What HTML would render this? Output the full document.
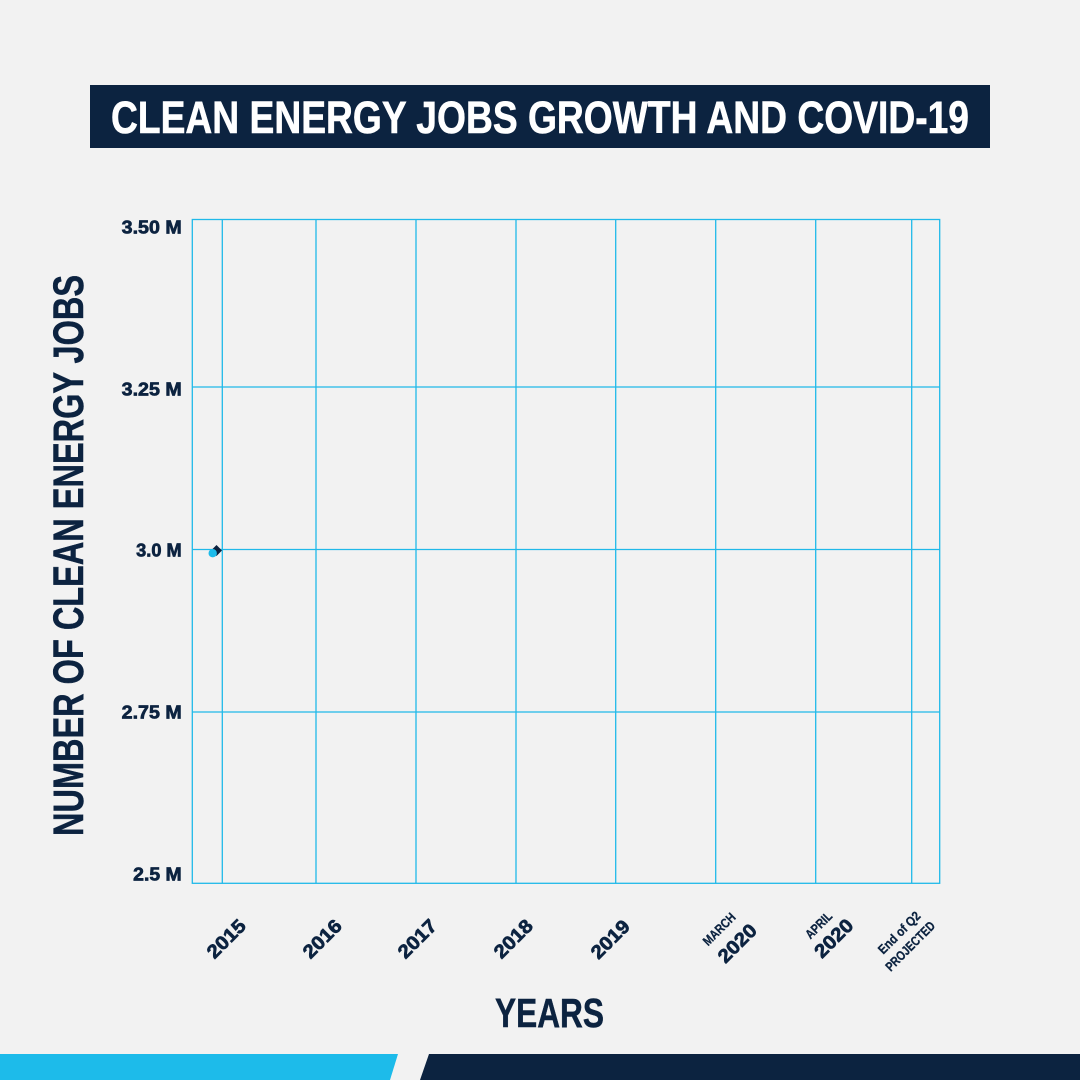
<!DOCTYPE html>
<html>
<head>
<meta charset="utf-8">
<style>
  html, body { margin:0; padding:0; background:#f2f2f2; }
  body { width:1080px; height:1080px; overflow:hidden; }
  svg { display:block; }
  text { font-family: "Liberation Sans", Arial, sans-serif; font-weight:bold; fill:#0c2340; }
  .heavy { stroke:#0c2340; stroke-width:0.7; }
</style>
</head>
<body>
<svg width="1080" height="1080" viewBox="0 0 1080 1080" xmlns="http://www.w3.org/2000/svg">
  <rect x="0" y="0" width="1080" height="1080" fill="#f2f2f2"/>

  <!-- Title -->
  <rect x="90" y="85" width="900" height="63" fill="#0c2340"/>
  <text x="111" y="133" font-size="45" style="fill:#ffffff;stroke:#ffffff;stroke-width:0.6" textLength="858" lengthAdjust="spacingAndGlyphs">CLEAN ENERGY JOBS GROWTH AND COVID-19</text>

  <!-- Grid -->
  <g stroke="#20b9e9" stroke-width="1.3" fill="none">
    <rect x="192.3" y="219.5" width="747.4" height="663.8"/>
    <line x1="192.3" y1="387" x2="939.7" y2="387"/>
    <line x1="192.3" y1="549.5" x2="939.7" y2="549.5"/>
    <line x1="192.3" y1="712" x2="939.7" y2="712"/>
    <line x1="222.3" y1="219.5" x2="222.3" y2="883.3"/>
    <line x1="316" y1="219.5" x2="316" y2="883.3"/>
    <line x1="416" y1="219.5" x2="416" y2="883.3"/>
    <line x1="516" y1="219.5" x2="516" y2="883.3"/>
    <line x1="615.7" y1="219.5" x2="615.7" y2="883.3"/>
    <line x1="715.7" y1="219.5" x2="715.7" y2="883.3"/>
    <line x1="815.7" y1="219.5" x2="815.7" y2="883.3"/>
    <line x1="911.7" y1="219.5" x2="911.7" y2="883.3"/>
  </g>

  <!-- Y tick labels -->
  <g font-size="18" text-anchor="end" class="heavy">
    <text x="181.7" y="233.5" textLength="60" lengthAdjust="spacingAndGlyphs">3.50 M</text>
    <text x="181.7" y="395.7" textLength="60" lengthAdjust="spacingAndGlyphs">3.25 M</text>
    <text x="181.7" y="556.5" textLength="45.5" lengthAdjust="spacingAndGlyphs">3.0 M</text>
    <text x="181.7" y="718.7" textLength="60" lengthAdjust="spacingAndGlyphs">2.75 M</text>
    <text x="181.7" y="880.7" textLength="48.5" lengthAdjust="spacingAndGlyphs">2.5 M</text>
  </g>

  <!-- Y axis title -->
  <text transform="translate(83,836) rotate(-90)" x="0" y="0" font-size="42.5" class="heavy" style="stroke-width:0.5" textLength="561" lengthAdjust="spacingAndGlyphs">NUMBER OF CLEAN ENERGY JOBS</text>

  <!-- X tick labels -->
  <g font-size="19" text-anchor="middle" class="heavy">
    <text transform="translate(226,938.5) rotate(-45)" y="6.8" textLength="46" lengthAdjust="spacingAndGlyphs">2015</text>
    <text transform="translate(322,938.5) rotate(-45)" y="6.8" textLength="46" lengthAdjust="spacingAndGlyphs">2016</text>
    <text transform="translate(417,938.5) rotate(-45)" y="6.8" textLength="46" lengthAdjust="spacingAndGlyphs">2017</text>
    <text transform="translate(513,938.5) rotate(-45)" y="6.8" textLength="46" lengthAdjust="spacingAndGlyphs">2018</text>
    <text transform="translate(610,939) rotate(-45)" y="6.8" textLength="46" lengthAdjust="spacingAndGlyphs">2019</text>
    <text transform="translate(737,943) rotate(-45)" y="6.8" textLength="46" lengthAdjust="spacingAndGlyphs">2020</text>
    <text transform="translate(833.5,938) rotate(-45)" y="6.8" textLength="46" lengthAdjust="spacingAndGlyphs">2020</text>
  </g>
  <g font-size="13" text-anchor="middle" class="heavy" style="stroke-width:0.3">
    <text transform="translate(719,929) rotate(-45)" y="4.7" textLength="40" lengthAdjust="spacingAndGlyphs">MARCH</text>
    <text transform="translate(818.5,925) rotate(-45)" y="4.7" textLength="32" lengthAdjust="spacingAndGlyphs">APRIL</text>
    <text transform="translate(899,932.5) rotate(-45)" y="4.7" textLength="54" lengthAdjust="spacingAndGlyphs">End of Q2</text>
    <text transform="translate(910,946) rotate(-45)" y="4.7" textLength="64" lengthAdjust="spacingAndGlyphs">PROJECTED</text>
  </g>

  <!-- X axis title -->
  <text x="495" y="1027" font-size="41" class="heavy" style="stroke-width:0.5" textLength="109" lengthAdjust="spacingAndGlyphs">YEARS</text>

  <!-- Data point -->
  <polygon points="216.5,545 222,550.5 216.5,556 211,550.5" fill="#0c2340"/>
  <circle cx="212.7" cy="553.2" r="4.2" fill="#1dbbea"/>

  <!-- Bottom band -->
  <polygon points="0,1054 398,1054 390,1080 0,1080" fill="#1dbbea"/>
  <polygon points="429,1054 1080,1054 1080,1080 420,1080" fill="#0c2340"/>
</svg>
</body>
</html>
